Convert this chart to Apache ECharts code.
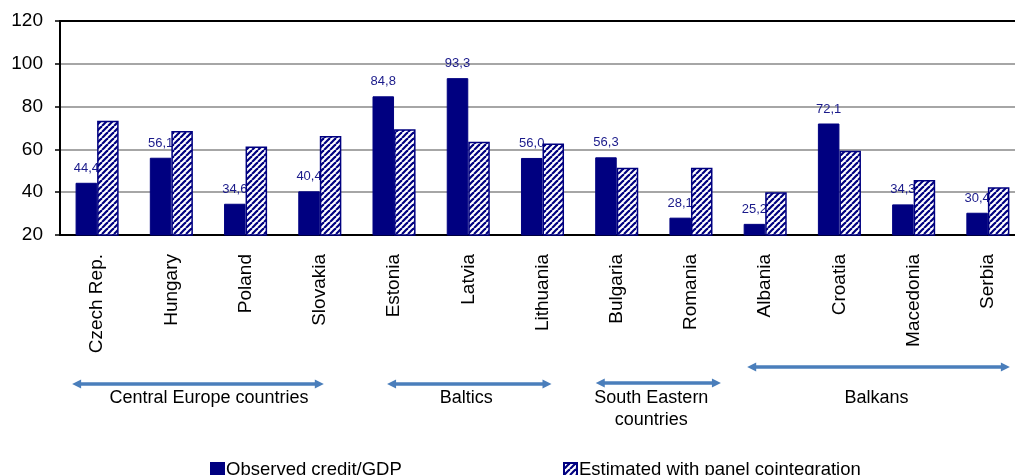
<!DOCTYPE html>
<html>
<head>
<meta charset="utf-8">
<title>Credit/GDP: observed vs estimated</title>
<script src="https://cdn.jsdelivr.net/npm/echarts@6/dist/echarts.min.js"></script>
<style>
  html, body { margin: 0; padding: 0; background: #fff; }
  #chart { width: 1015px; height: 475px; }
</style>
</head>
<body>
<div id="chart"></div>
<script>
// Countries on the x axis
const countries = ['Czech Rep.', 'Hungary', 'Poland', 'Slovakia', 'Estonia', 'Latvia', 'Lithuania',
  'Bulgaria', 'Romania', 'Albania', 'Croatia', 'Macedonia', 'Serbia'];

// Observed credit/GDP (%)
const observed = [44.4, 56.1, 34.6, 40.4, 84.8, 93.3, 56.0, 56.3, 28.1, 25.2, 72.1, 34.3, 30.4];

// Equilibrium level estimated with panel cointegration (%)
const estimated = [73.4, 68.6, 61.3, 66.3, 69.4, 63.6, 62.7, 51.4, 51.4, 40.0, 59.4, 45.7, 42.3];

// Y axis ticks
const yTicks = { min: 20, max: 120, step: 20 };

// Regional groups drawn beneath the country names
const groups = [
  { name: 'Central Europe countries', from: 'Czech Rep.', to: 'Slovakia' },
  { name: 'Baltics', from: 'Estonia', to: 'Lithuania' },
  { name: 'South Eastern\ncountries', from: 'Bulgaria', to: 'Romania' },
  { name: 'Balkans', from: 'Albania', to: 'Serbia' }
];

// Arrow placement relative to the first/last category centre of each group
const groupLayout = [
  { dxStart: -25, dxEnd: 4, y: 384, textDx: 11 },
  { dxStart: -7, dxEnd: 9, y: 384, textDx: -3 },
  { dxStart: -21, dxEnd: 30, y: 383, textDx: -7 },
  { dxStart: -18, dxEnd: 22, y: 367, textDx: -2 }
];

const NAVY = '#000080';
const ARROW = '#4a7ebb';
const FONT = '"Liberation Sans", Arial, sans-serif';

// Diagonal hatch tile for the estimated series
function hatchTile() {
  const s = 6;
  const c = document.createElement('canvas');
  c.width = s; c.height = s;
  const ctx = c.getContext('2d');
  ctx.fillStyle = '#fff';
  ctx.fillRect(0, 0, s, s);
  ctx.strokeStyle = NAVY;
  ctx.lineWidth = 2.2;
  for (const o of [-s, 0, s]) {
    ctx.beginPath();
    ctx.moveTo(o, s);
    ctx.lineTo(o + s, 0);
    ctx.stroke();
  }
  return c;
}

const fmt = v => v.toFixed(1).replace('.', ',');

const chart = echarts.init(document.getElementById('chart'), null, { renderer: 'canvas' });

chart.setOption({
  animation: false,
  backgroundColor: '#fff',
  textStyle: { fontFamily: FONT },
  grid: { left: 60, top: 21, width: 965, height: 214, containLabel: false, outerBoundsMode: 'none' },
  legend: [
    {
      data: ['Observed credit/GDP'],
      left: 205, top: 455, icon: 'rect',
      itemWidth: 13, itemHeight: 13,
      textStyle: { fontSize: 18.5, color: '#000', fontFamily: FONT, padding: [0, 0, 0, -3] }
    },
    {
      data: ['Estimated with panel cointegration'],
      left: 558, top: 455, icon: 'rect',
      itemWidth: 13, itemHeight: 13,
      textStyle: { fontSize: 18.5, color: '#000', fontFamily: FONT, padding: [0, 0, 0, -3] }
    }
  ],
  xAxis: [
    {
      type: 'category',
      data: countries,
      position: 'bottom',
      axisLine: { show: true, lineStyle: { color: '#000', width: 2 } },
      axisTick: { show: false },
      axisLabel: {
        rotate: 90, margin: 19, interval: 0,
        fontSize: 19, color: '#000', fontFamily: FONT
      }
    },
    {
      type: 'category',
      data: countries,
      position: 'top',
      axisLine: { show: true, lineStyle: { color: '#000', width: 2 } },
      axisTick: { show: false },
      axisLabel: { show: false }
    }
  ],
  yAxis: {
    type: 'value',
    min: yTicks.min, max: yTicks.max, interval: yTicks.step,
    axisLine: { show: true, lineStyle: { color: '#000', width: 2 } },
    axisTick: { show: true, length: 5, lineStyle: { color: '#000', width: 1.5 } },
    axisLabel: { fontSize: 19, color: '#000', margin: 17, fontFamily: FONT },
    splitLine: { show: true, lineStyle: { color: '#a6a6a6', width: 2 } }
  },
  series: [
    {
      name: 'Observed credit/GDP',
      type: 'bar',
      data: observed,
      barWidth: '29%',
      barGap: '0%',
      z: 2,
      itemStyle: { color: NAVY, borderColor: NAVY, borderWidth: 1 },
      label: {
        show: true, position: 'top', distance: 8,
        fontSize: 13, color: '#1a1a8a', fontFamily: FONT,
        formatter: p => fmt(p.value)
      }
    },
    {
      name: 'Estimated with panel cointegration',
      type: 'bar',
      data: estimated,
      barWidth: '29%',
      z: 3,
      itemStyle: {
        color: { image: hatchTile(), repeat: 'repeat' },
        borderColor: NAVY, borderWidth: 1.5
      }
    }
  ]
});

// Double-headed arrows and captions for the regional groups
function groupGraphics() {
  const els = [];
  groups.forEach((g, i) => {
    const L = groupLayout[i];
    const x0 = chart.convertToPixel({ xAxisIndex: 0 }, countries.indexOf(g.from)) + L.dxStart;
    const x1 = chart.convertToPixel({ xAxisIndex: 0 }, countries.indexOf(g.to)) + L.dxEnd;
    const y = L.y;
    const head = 9, half = 4.5;
    els.push({
      type: 'line',
      shape: { x1: x0 + head - 1, y1: y, x2: x1 - head + 1, y2: y },
      style: { stroke: ARROW, lineWidth: 3.5 },
      silent: true
    });
    els.push({
      type: 'polygon',
      shape: { points: [[x0, y], [x0 + head, y - half], [x0 + head, y + half]] },
      style: { fill: ARROW },
      silent: true
    });
    els.push({
      type: 'polygon',
      shape: { points: [[x1, y], [x1 - head, y - half], [x1 - head, y + half]] },
      style: { fill: ARROW },
      silent: true
    });
    els.push({
      type: 'text',
      x: (x0 + x1) / 2 + L.textDx,
      y: 387,
      style: {
        text: g.name,
        fill: '#000',
        font: '18px ' + FONT,
        align: 'center',
        verticalAlign: 'top',
        lineHeight: 22
      },
      silent: true
    });
  });
  return els;
}

chart.setOption({ graphic: groupGraphics() });
</script>
</body>
</html>
